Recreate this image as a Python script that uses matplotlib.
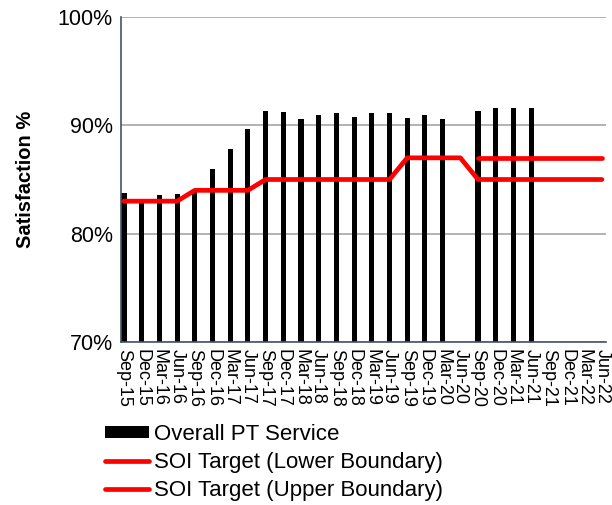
import matplotlib.pyplot as plt
import numpy as np

plt.rcParams["font.family"] = ["Liberation Sans", "DejaVu Sans"]

# Quarter labels
quarters = [
    "Sep-15", "Dec-15", "Mar-16", "Jun-16", "Sep-16", "Dec-16", "Mar-17",
    "Jun-17", "Sep-17", "Dec-17", "Mar-18", "Jun-18", "Sep-18", "Dec-18",
    "Mar-19", "Jun-19", "Sep-19", "Dec-19", "Mar-20", "Jun-20", "Sep-20",
    "Dec-20", "Mar-21", "Jun-21", "Sep-21", "Dec-21", "Mar-22", "Jun-22",
]
nan = np.nan

# Overall PT service satisfaction (%), no survey in Jun-20
overall = [
    83.8, 82.9, 83.6, 83.7, 84.0, 86.0, 87.8, 89.7, 91.3, 91.2,
    90.6, 91.0, 91.1, 90.8, 91.1, 91.1, 90.7, 91.0, 90.6, nan,
    91.3, 91.6, 91.6, 91.6, nan, nan, nan, nan,
]
soi_lower = [
    83, 83, 83, 83, 84, 84, 84, 84, 85, 85,
    85, 85, 85, 85, 85, 85, 87, 87, 87, 87,
    85, 85, 85, 85, 85, 85, 85, 85,
]
soi_upper = [
    nan, nan, nan, nan, nan, nan, nan, nan, nan, nan,
    nan, nan, nan, nan, nan, nan, nan, nan, nan, nan,
    87, 87, 87, 87, 87, 87, 87, 87,
]

W, H = 612, 505
fig = plt.figure(figsize=(W / 100, H / 100), dpi=100)
ax = fig.add_axes([121 / W, 1 - 342 / H, (606 - 121) / W, (342 - 17) / H])

x = np.arange(len(quarters))
b = ax.bar(x, overall, width=0.29, color="black", label="Overall PT Service", zorder=2)
l1, = ax.plot(x, soi_lower, color="#FF0000", lw=3.4, solid_capstyle="round",
              solid_joinstyle="round", label="SOI Target (Lower Boundary)", zorder=3)
l2, = ax.plot(x, soi_upper, color="#FF0000", lw=3.4, solid_capstyle="round",
              solid_joinstyle="round", label="SOI Target (Upper Boundary)", zorder=3)

ax.set_ylim(70, 100)
ax.set_yticks([70, 80, 90, 100])
ax.set_yticklabels(["70%", "80%", "90%", "100%"], fontsize=15.5)
ax.set_xlim(-0.17, 27.23)
ax.set_xticks(x)
ax.set_xticklabels(quarters, rotation=270, fontsize=13, ha="center", va="top")
ax.tick_params(length=0)
ax.tick_params(axis="x", pad=5)
ax.tick_params(axis="y", pad=6)

ax.grid(axis="y", color="#A6A6A6", lw=1.2, zorder=0)
for s in ["top", "right"]:
    ax.spines[s].set_visible(False)
for s in ["left", "bottom"]:
    ax.spines[s].set_color("#44546A")
    ax.spines[s].set_linewidth(1.2)

ax.set_ylabel("Satisfaction %", fontsize=14.5, fontweight="bold", labelpad=16)

fig.legend(handles=[b, l1, l2], loc="upper left",
           bbox_to_anchor=(105 / W, 1 - 424 / H), frameon=False,
           fontsize=16, handlelength=2.0, handleheight=0.5, handletextpad=0.22,
           labelspacing=0.32, borderaxespad=0, borderpad=0)

plt.savefig("out.png", dpi=100)
plt.close()
